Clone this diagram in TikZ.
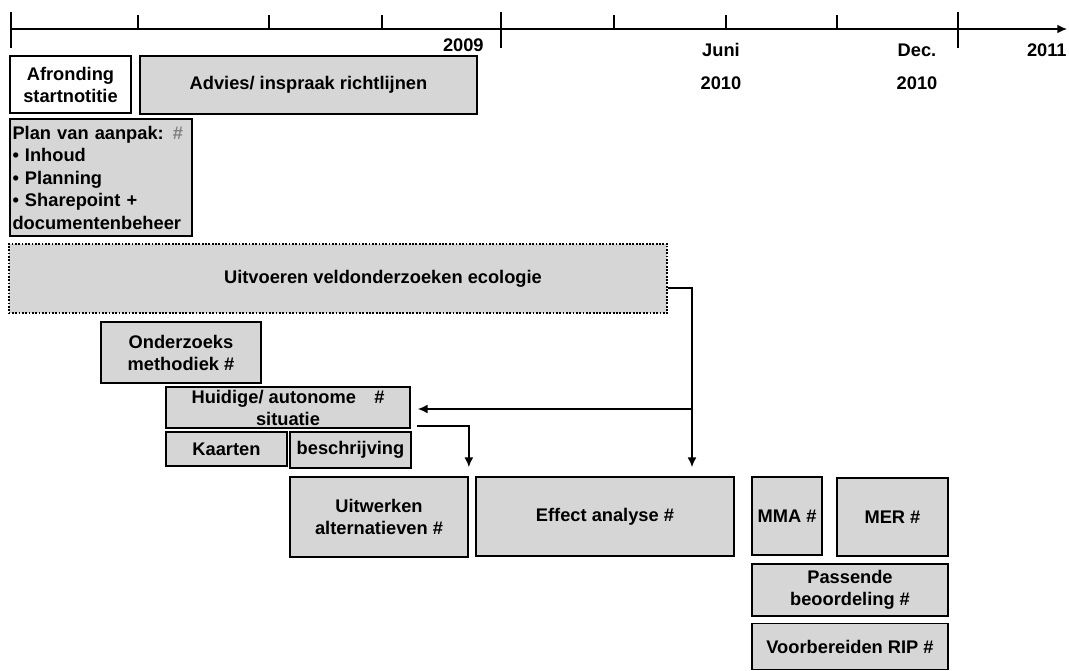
\documentclass[tikz,border=0pt]{standalone}
\usepackage{fontspec}
\setmainfont{Liberation Sans}
\usetikzlibrary{arrows.meta}
\definecolor{boxgray}{RGB}{214,214,214}
\def\lbl{\fontsize{10.4}{12.5}\selectfont\bfseries}

\begin{document}
\begin{tikzpicture}[x=0.02cm, y=-0.02cm, font=\lbl,
  box/.style={draw, line width=1pt, fill=boxgray, align=center, inner sep=2pt},
  dotbox/.style={box, line width=1.2pt, dash pattern=on 1pt off 0.9pt},
  arr/.style={draw, line width=0.8pt, -{Latex[length=5.5pt,width=5pt]}},
  tick/.style={draw, line width=0.8pt}]
  \useasboundingbox (0,0) rectangle (1069,670);

  % time axis
  \coordinate (t0) at (10,29);
  \coordinate (t1) at (1067,29);
  \draw[arr] (t0) -- (t1);
  \foreach \x in {11,501,958} \draw[tick] (\x,12) -- (\x,48);
  \foreach \x in {138,269,382,614,726,837} \draw[tick] (\x,15) -- (\x,29);
  \node[anchor=east, inner sep=0] (y2009) at (484,45) {2009};
  \node (juni) at (721,50) {Juni};
  \node (y2010a) at (721,83) {2010};
  \node (dec) at (917,50) {Dec.};
  \node (y2010b) at (917,83) {2010};
  \node[anchor=east, inner sep=0] (y2011) at (1067,50) {2011};

  % activities
  \node[box, fill=white, minimum width=2.42cm, minimum height=1.14cm] (start) at (70.5,84.5) {Afronding\\startnotitie};
  \node[box, minimum width=6.74cm, minimum height=1.16cm] (advies) at (308.5,85) {Advies/ inspraak richtlijnen};
  \node[box, align=left, text width=3.54cm, inner xsep=0.05cm, minimum height=2.34cm,
    font=\fontsize{10.4}{12.8}\selectfont\bfseries] (plan) at (101,177.5)
    {Plan van aanpak: {\color{gray}\#}\\\textbullet\ Inhoud\\\textbullet\ Planning\\\textbullet\ Sharepoint +\\documentenbeheer};
  \node[dotbox, minimum width=13.18cm, minimum height=1.38cm] (uitvoeren) at (338,278.5)
    {\hspace*{1.8cm}Uitvoeren veldonderzoeken ecologie};
  \node[box, minimum width=3.2cm, minimum height=1.22cm] (onderzoek) at (181,352.5) {Onderzoeks\\methodiek \#};
  \node[box, inner ysep=0pt, minimum width=4.88cm, minimum height=0.82cm] (huidig) at (288,407.5) {Huidige/ autonome\quad\#\\situatie};
  \node[box, minimum width=2.42cm, minimum height=0.68cm] (kaarten) at (226.5,449) {Kaarten};
  \node[box, minimum width=2.42cm, minimum height=0.72cm] (beschrijving) at (350.5,450) {beschrijving};
  \node[box, minimum width=3.56cm, minimum height=1.6cm] (uitwerken) at (379,517) {Uitwerken\\alternatieven \#};
  \node[box, minimum width=5.16cm, minimum height=1.58cm] (effect) at (605,516.5) {Effect analyse \#};
  \node[box, minimum width=1.4cm, minimum height=1.56cm] (mma) at (787,516) {MMA \#};
  \node[box, minimum width=2.22cm, minimum height=1.56cm] (mer) at (892.5,517) {MER \#};
  \node[box, minimum width=3.92cm, minimum height=1.04cm] (passende) at (850,590) {Passende\\beoordeling \#};
  \node[box, minimum width=3.92cm, minimum height=0.92cm] (rip) at (850,646.5) {Voorbereiden RIP \#};

  % connectors
  \coordinate (split) at (692,409);
  \draw[arr, shorten >=0.18cm] ([yshift=-0.19cm]uitvoeren.east) -| (effect.north -| split);
  \draw[arr, shorten >=0.14cm] (split) -- (huidig.east |- split);
  \draw[arr, shorten >=0.18cm] ([xshift=0.12cm,yshift=-0.37cm]huidig.east) -| (uitwerken.north east);
\end{tikzpicture}
\end{document}
